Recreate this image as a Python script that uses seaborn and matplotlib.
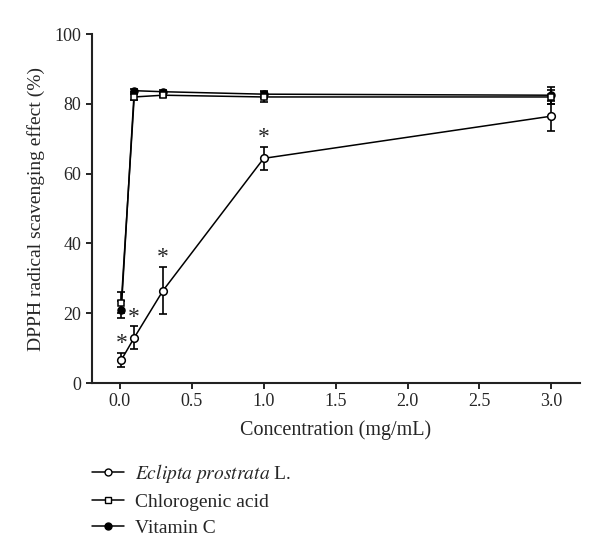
import numpy as np
import pandas as pd
import matplotlib
matplotlib.use("Agg")
import matplotlib.pyplot as plt
import seaborn as sns
from matplotlib.lines import Line2D

# data
conc = [0.01, 0.1, 0.3, 1.0, 3.0]
eclipta = [6.6, 13.0, 26.5, 64.4, 76.5]
eclipta_err = [2.0, 3.3, 6.8, 3.3, 4.3]
chloro = [23.0, 82.0, 82.5, 82.0, 82.0]
chloro_err = [3.0, 0.8, 0.6, 1.5, 2.0]
vitc = [21.0, 83.8, 83.5, 82.8, 82.5]
vitc_err = [2.4, 0.5, 0.5, 1.0, 2.4]
star_idx = [0, 1, 2, 3]

sns.set_theme(style="ticks")
plt.rcParams["font.family"] = ["Liberation Serif", "DejaVu Serif"]
plt.rcParams["mathtext.fontset"] = "stix"

df = pd.DataFrame({
    "conc": conc * 3,
    "value": eclipta + chloro + vitc,
    "err": eclipta_err + chloro_err + vitc_err,
    "sample": ["Eclipta"] * 5 + ["Chloro"] * 5 + ["VitC"] * 5,
})

fig = plt.figure(figsize=(6, 5.6), dpi=100)
ax = fig.add_axes([0.153, 0.316, 0.814, 0.623])

styles = {
    "VitC": dict(marker="o", mfc="black", ms=5),
    "Chloro": dict(marker="s", mfc="white", ms=4.6),
    "Eclipta": dict(marker="o", mfc="white", ms=5.5),
}
for name in ["VitC", "Chloro", "Eclipta"]:
    sub = df[df["sample"] == name]
    ax.errorbar(sub["conc"], sub["value"], yerr=sub["err"], fmt="none",
                ecolor="black", elinewidth=1.2, capsize=3, capthick=1.2, zorder=2)
    sns.lineplot(data=sub, x="conc", y="value", ax=ax, color="black",
                 linewidth=1.1, mec="black", mew=1.1, zorder=3, **styles[name])

for i in star_idx:
    ax.text(conc[i], eclipta[i] + eclipta_err[i] + 2.6, "*", ha="center",
            va="center", fontsize=17)

ax.set_xlim(-0.195, 3.2)
ax.set_ylim(0, 100)
ax.set_xticks(np.arange(0, 3.01, 0.5))
ax.set_xticklabels([f"{v:.1f}" for v in np.arange(0, 3.01, 0.5)])
ax.set_yticks(range(0, 101, 20))
ax.tick_params(labelsize=13, width=1.2, length=4, color="black")
for s in ["left", "bottom"]:
    ax.spines[s].set_linewidth(1.5)
    ax.spines[s].set_color("#222222")
sns.despine(ax=ax)
ax.set_xlabel("Concentration (mg/mL)", fontsize=14.5, labelpad=7)
ax.set_ylabel("DPPH radical scavenging effect (%)", fontsize=14)
ax.yaxis.set_label_coords(-0.095, 0.5)

handles = [
    Line2D([], [], color="black", lw=1.1, marker="o", mfc="white", mec="black", ms=5),
    Line2D([], [], color="black", lw=1.1, marker="s", mfc="white", mec="black", ms=4.5),
    Line2D([], [], color="black", lw=1.1, marker="o", mfc="black", mec="black", ms=5),
]
labels = [r"$\it{Eclipta\ prostrata}$ L.", "Chlorogenic acid", "Vitamin C"]
fig.legend(handles, labels, loc="upper left", bbox_to_anchor=(0.153, 0.175),
           frameon=False, fontsize=14, handlelength=1.65, labelspacing=0.42,
           handletextpad=0.55, borderaxespad=0, borderpad=0)

fig.savefig("out.png", dpi=100)
